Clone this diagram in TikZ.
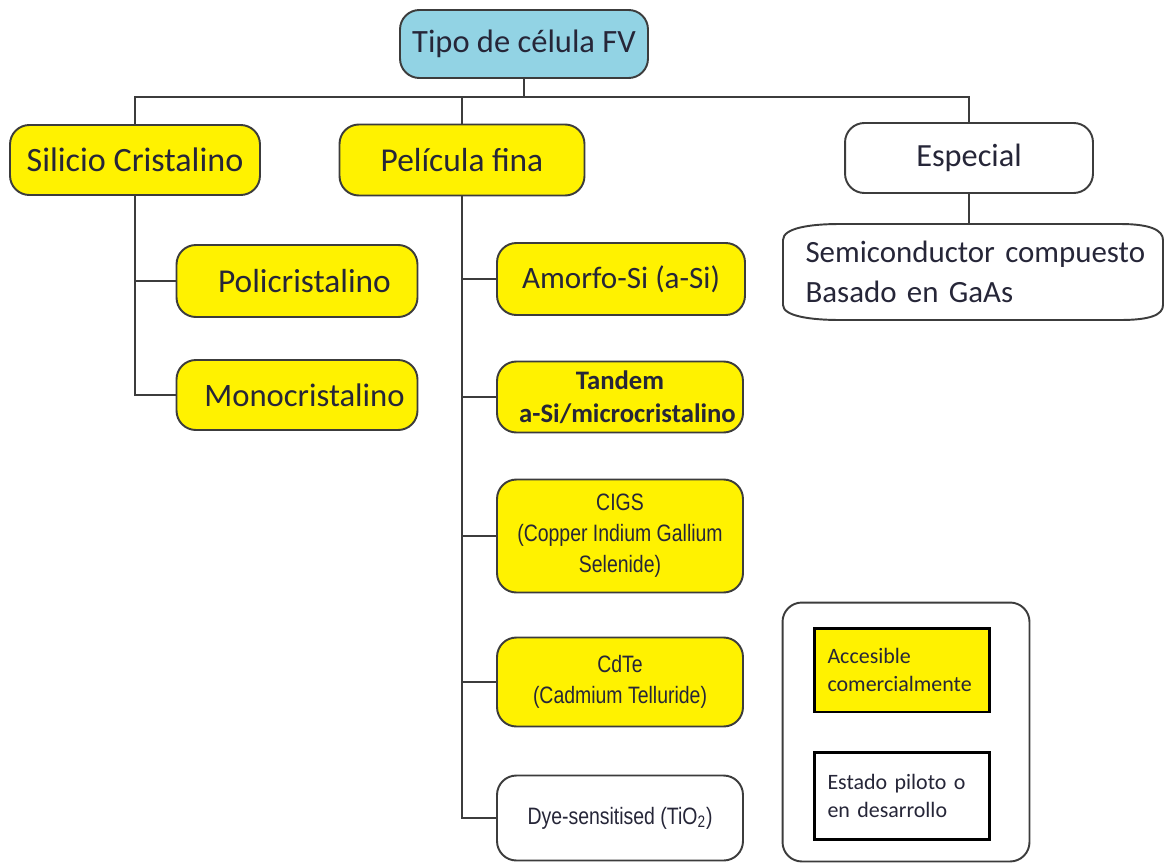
\documentclass[tikz,border=0pt]{standalone}
\usepackage{fontspec}
\setmainfont{Carlito}
\newfontfamily\narrowfont[FakeStretch=0.82]{Liberation Sans}
\definecolor{ylw}{RGB}{255,242,0}
\definecolor{blu}{RGB}{146,211,228}
\definecolor{edge}{RGB}{60,60,60}
\definecolor{txt}{RGB}{38,38,56}
\begin{document}
\begin{tikzpicture}[x=0.02cm,y=-0.02cm,
  box/.style={draw=edge, line width=1.1pt, rounded corners=11pt, inner sep=0pt, text=txt, align=center},
  yel/.style={box, fill=ylw},
  conn/.style={draw=edge, line width=1.1pt},
  legbox/.style={draw=black, line width=1.7pt, inner xsep=0.26cm, inner ysep=0pt, text width=2.98cm, align=left, text=txt, font=\fontsize{12.5}{16}\selectfont}
]
\useasboundingbox (0,0) rectangle (1165,865);

\node[box, fill=blu, minimum width=4.96cm, minimum height=1.36cm, font=\fontsize{18.5}{22}\selectfont] (top) at (524,44) {Tipo de célula FV};

\node[yel, minimum width=5.0cm, minimum height=1.4cm, font=\fontsize{19.4}{22}\selectfont] (sil) at (135,160) {Silicio Cristalino};
\node[yel, minimum width=4.9cm, minimum height=1.42cm, font=\fontsize{19}{22}\selectfont] (pel) at (462,160) {Película fina};
\node[box, fill=white, minimum width=4.96cm, minimum height=1.4cm, font=\fontsize{18.4}{22}\selectfont] (esp) at (969,158) {Especial};

\node[yel, minimum width=4.82cm, minimum height=1.44cm, font=\fontsize{19}{22}\selectfont] (poli) at (297,281) {\hspace*{0.3cm}Policristalino};
\node[yel, minimum width=4.82cm, minimum height=1.4cm, font=\fontsize{18.6}{22}\selectfont] (mono) at (297,395) {\hspace*{0.3cm}Monocristalino};

\node[yel, minimum width=4.96cm, minimum height=1.44cm, font=\fontsize{17.7}{21}\selectfont] (amo) at (621,279) {Amorfo-Si (a-Si)};
\node[yel, minimum width=4.92cm, minimum height=1.42cm, font=\bfseries\fontsize{15.2}{18.5}\selectfont] (tan) at (620,397) {Tandem\\\hspace*{0.3cm}a-Si/microcristalino};
\node[yel, minimum width=4.92cm, minimum height=2.26cm, font=\narrowfont\fontsize{13.5}{17.6}\selectfont] (cig) at (620,536) {CIGS\\(Copper Indium Gallium\\Selenide)};
\node[yel, minimum width=4.92cm, minimum height=1.78cm, font=\narrowfont\fontsize{13.5}{17.6}\selectfont] (cdt) at (620,682) {CdTe\\(Cadmium Telluride)};
\node[box, fill=white, minimum width=4.92cm, minimum height=1.7cm, font=\narrowfont\fontsize{13.5}{17.6}\selectfont] (dye) at (620,818) {Dye-sensitised (TiO\textsubscript{2})};

\node[draw=none, inner sep=0pt, minimum height=1.9cm, text width=7.3cm, align=left, text=txt, font=\fontsize{17.6}{22.7}\selectfont] (semi) at (988,272) {Semiconductor compuesto\\Basado en GaAs};
\draw[draw=edge, line width=1.1pt] (783,240) .. controls (783,228) and (810,224) .. (840,224) -- (1120,224) .. controls (1150,224) and (1163,230) .. (1163,240) -- (1163,305) .. controls (1163,315) and (1150,320) .. (1120,320) -- (840,320) .. controls (810,320) and (783,316) .. (783,305) -- cycle;

\node[draw=edge, line width=1.1pt, rounded corners=11pt, minimum width=4.94cm, minimum height=5.18cm, fill=white] (leg) at (906,732) {};
\node[legbox, fill=ylw, minimum height=1.68cm] (acc) at (902,670) {Accesible\\comercialmente};
\node[legbox, fill=white, minimum height=1.74cm] (est) at (902,796) {Estado piloto o\\en desarrollo};

\coordinate (bus) at (520,97);
\draw[conn] (top.south) -- (top.south |- bus);
\draw[conn] (sil.north) -- (sil.north |- bus) -- (esp.north |- bus) -- (esp.north);
\draw[conn] (pel.north) -- (pel.north |- bus);
\draw[conn] (sil.south) |- (poli.west);
\draw[conn] (sil.south) |- (mono.west);
\foreach \n in {amo,tan,cig,cdt,dye} \draw[conn] (pel.south) |- (\n.west);
\draw[conn] (esp.south) -- (esp.south |- {(973,224)});
\end{tikzpicture}
\end{document}
